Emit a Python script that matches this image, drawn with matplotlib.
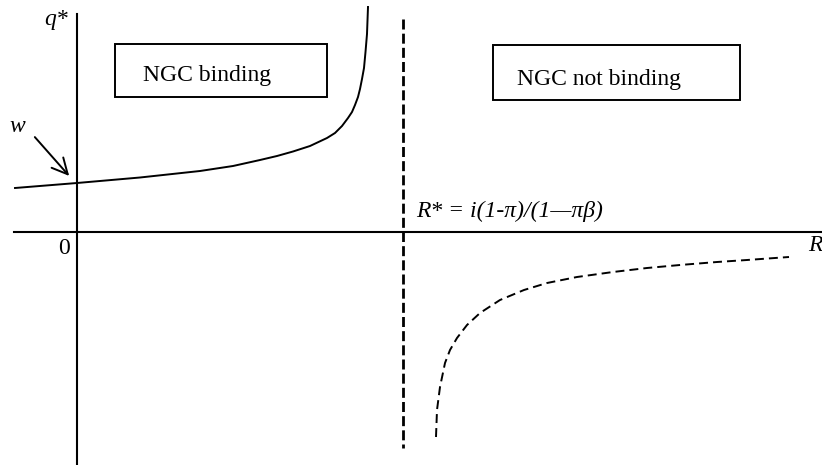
import matplotlib
matplotlib.use("Agg")
import matplotlib.pyplot as plt
from matplotlib.patches import Rectangle

plt.rcParams['font.family'] = ['Liberation Serif', 'DejaVu Serif']

# NGC binding branch (left of R*)
binding_R = [-62, 0, 63, 123, 156, 183, 200, 216, 233, 250, 258, 265, 271, 275, 278, 281,
             283, 285, 287, 288.5, 290, 291]
binding_q = [44, 49, 54.5, 61, 66, 72, 76, 80.5, 86, 94, 99, 106, 114, 120, 127, 135,
             143, 153, 164, 180, 198, 225]

# NGC not binding branch (right of R*)
free_R = [359, 360, 363, 368, 373, 380, 390, 403, 423, 447, 470, 500, 536, 570, 603, 640, 670, 712]
free_q = [-205, -178, -155, -131, -118, -106, -93, -81, -68, -58, -51, -45, -40, -36, -33, -30, -28, -25]

R_star = 326

fig = plt.figure(figsize=(8.22, 4.65), dpi=100)
ax = fig.add_axes([0, 0, 1, 1])
ax.set_xlim(-77, 745)
ax.set_ylim(-233, 232)
ax.axis('off')

# axes
ax.plot([-63, 745], [0, 0], color='black', lw=1.5)
ax.plot([0, 0], [218, -233], color='black', lw=1.5)

# asymptote at R*
ax.plot([R_star, R_star], [213, -216], color='black', lw=2, dashes=(3.6, 1.5))

# curves
ax.plot(binding_R, binding_q, color='black', lw=1.4)
ax.plot(free_R, free_q, color='black', lw=1.4, dashes=(4.6, 2.6))

# regime boxes
ax.add_patch(Rectangle((38, 135), 212, 53, fill=False, lw=1.4, ec='black'))
ax.add_patch(Rectangle((416, 132), 247, 55, fill=False, lw=1.4, ec='black'))
ax.text(66, 151, 'NGC binding', fontsize=17, va='baseline', ha='left')
ax.text(440, 147, 'NGC not binding', fontsize=17, va='baseline', ha='left')

# labels
ax.text(339, 15, 'R* = i(1-π)/(1—πβ)', fontsize=17, style='italic', va='baseline', ha='left')
ax.text(-21, 212, 'q*', fontsize=17, style='italic', ha='center', va='center')
ax.text(-60, 105, 'w', fontsize=17, style='italic', ha='center', va='center')
ax.text(-13, -16, '0', fontsize=17, ha='center', va='center')
ax.text(738, -13, 'R', fontsize=17, style='italic', ha='center', va='center')

ax.annotate('', xy=(-6, 54), xytext=(-44, 97),
            arrowprops=dict(arrowstyle='->', lw=1.4, color='black', mutation_scale=28))

fig.savefig('out.png', dpi=100)
